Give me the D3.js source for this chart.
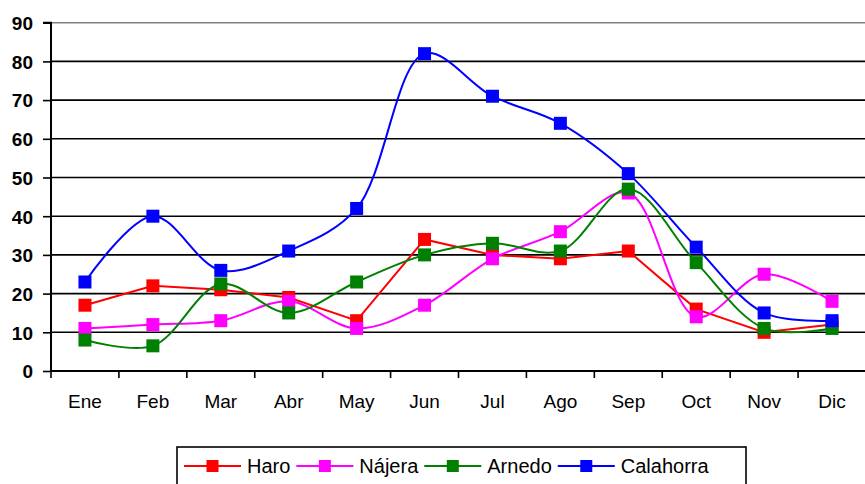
<!DOCTYPE html>
<html><head><meta charset="utf-8">
<script src="https://cdn.jsdelivr.net/npm/d3@7"></script>
<style>body{margin:0;background:#fff}svg{display:block;font-family:Arial,"Liberation Sans",sans-serif}</style>
</head><body><svg id="c" width="865" height="484"></svg>
<script>
const months = ["Ene","Feb","Mar","Abr","May","Jun","Jul","Ago","Sep","Oct","Nov","Dic"];
const haro      = [17, 22, 21, 19, 13, 34, 30, 29, 31, 16, 10, 12];
const najera    = [11, 12, 13, 18, 11, 17, 29, 36, 46, 14, 25, 18];
const arnedo    = [8, 6.5, 22.5, 15, 23, 30, 33, 31, 47, 28, 11, 11];
const calahorra = [23, 40, 26, 31, 42, 82, 71, 64, 51, 32, 15, 13];
const yTicks = [0,10,20,30,40,50,60,70,80,90];
const seriesNames = ["Haro","Nájera","Arnedo","Calahorra"];
const seriesColors = ["#ff0000","#ff00ff","#008000","#0000ff"];
const seriesSmooth = [false, true, true, true];
const seriesData = [haro, najera, arnedo, calahorra];

const FONT = "Arial, 'Liberation Sans', sans-serif";
const svg = d3.select("#c");
const L = 51, R = 866, T = 22.7, B = 371;
const x = d3.scaleBand().domain(months).range([L, R]);
const y = d3.scaleLinear().domain([0, 90]).range([B, T]);

// gridlines
svg.append("g").selectAll("line").data(yTicks.filter(v => v > 0 && v < 90)).join("line")
  .attr("x1", L).attr("x2", R).attr("y1", d => y(d)).attr("y2", d => y(d))
  .attr("stroke", "#000").attr("stroke-width", 1.6);
svg.append("line").attr("x1", L).attr("x2", R).attr("y1", y(90)).attr("y2", y(90))
  .attr("stroke", "#808080").attr("stroke-width", 1.6);

// y axis
const ya = d3.axisLeft(y).tickValues(yTicks).tickSize(8).tickPadding(10);
const gy = svg.append("g").attr("transform", `translate(${L},0)`).call(ya);
gy.select(".domain").attr("stroke", "#000").attr("stroke-width", 2).attr("d", `M-8,${y(90)}H0V${B}`);
gy.selectAll(".tick line").attr("stroke", "#000").attr("stroke-width", 1.6);
gy.selectAll(".tick text").attr("font-size", 19).attr("font-weight", "bold")
  .attr("font-family", FONT).attr("fill", "#000").attr("dy", "0.36em");

// x axis
const xa = d3.axisBottom(x).tickSize(0).tickPadding(24);
const gx = svg.append("g").attr("transform", `translate(0,${B})`).call(xa);
gx.select(".domain").remove();
gx.selectAll(".tick text").attr("font-size", 19).attr("font-family", FONT).attr("fill", "#000");
svg.append("line").attr("x1", L).attr("x2", R).attr("y1", B).attr("y2", B).attr("stroke", "#000").attr("stroke-width", 2);
svg.append("g").selectAll("line").data(months).join("line")
  .attr("x1", d => x(d)).attr("x2", d => x(d)).attr("y1", B).attr("y2", B + 7)
  .attr("stroke", "#000").attr("stroke-width", 1.6);

// series
const ms = 13;
seriesData.forEach((vals, i) => {
  const line = d3.line().x((d, j) => x(months[j]) + x.bandwidth() / 2).y(d => y(d))
    .curve(seriesSmooth[i] ? d3.curveCatmullRom.alpha(0.5) : d3.curveLinear);
  const g = svg.append("g");
  g.append("path").attr("d", line(vals)).attr("fill", "none").attr("stroke", seriesColors[i]).attr("stroke-width", 2);
  g.selectAll("rect").data(vals).join("rect")
    .attr("x", (d, j) => x(months[j]) + x.bandwidth() / 2 - ms / 2)
    .attr("y", d => y(d) - ms / 2).attr("width", ms).attr("height", ms)
    .attr("fill", seriesColors[i]);
});

// legend
const lg = svg.append("g");
lg.append("rect").attr("x", 177).attr("y", 447).attr("width", 569).attr("height", 45)
  .attr("fill", "#fff").attr("stroke", "#000").attr("stroke-width", 1.6);
const items = lg.selectAll("g.it").data(seriesNames).join("g").attr("class", "it");
items.append("text").text(d => d).attr("font-size", 20).attr("font-family", FONT)
  .attr("fill", "#000").attr("y", 466).attr("dy", "0.35em");
let cx = 184;
items.each(function(d, i) {
  const g = d3.select(this);
  const tw = g.select("text").node().getComputedTextLength();
  g.append("line").attr("x1", cx).attr("x2", cx + 57).attr("y1", 466).attr("y2", 466)
    .attr("stroke", seriesColors[i]).attr("stroke-width", 2);
  g.append("rect").attr("x", cx + 28.5 - 6).attr("y", 460).attr("width", 12).attr("height", 12).attr("fill", seriesColors[i]);
  g.select("text").attr("x", cx + 63);
  cx += 63 + tw + 6;
});
</script></body></html>
